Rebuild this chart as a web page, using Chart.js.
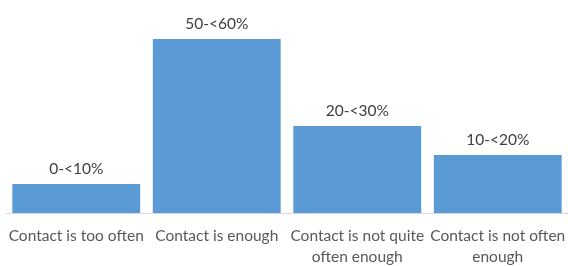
<!DOCTYPE html>
<html>
<head>
<meta charset="utf-8">
<script src="https://cdn.jsdelivr.net/npm/chart.js@4"></script>
<style>
  html, body { margin: 0; padding: 0; background: #fff; }
  #wrap { width: 568px; height: 266px; }
</style>
</head>
<body>
<div id="wrap"><canvas id="chart"></canvas></div>
<script>
const categories = [
  "Contact is too often",
  ["Contact is enough"],
  ["Contact is not quite", "often enough"],
  ["Contact is not often", "enough"]
];
const values = [10, 60, 30, 20];
const rangeLabels = ["0-<10%", "50-<60%", "20-<30%", "10-<20%"];

// draws the range text above each bar
const barLabels = {
  id: "barLabels",
  afterDatasetsDraw(chart) {
    const ctx = chart.ctx;
    const meta = chart.getDatasetMeta(0);
    ctx.save();
    ctx.font = "15.5px Lato, 'Open Sans', sans-serif";
    ctx.fillStyle = "#404040";
    ctx.textAlign = "center";
    ctx.textBaseline = "bottom";
    meta.data.forEach((bar, i) => {
      ctx.fillText(rangeLabels[i], bar.x, bar.y - 7);
    });
    ctx.restore();
  }
};

const ctx = document.getElementById("chart").getContext("2d");
new Chart(ctx, {
  type: "bar",
  data: {
    labels: categories,
    datasets: [{
      data: values,
      backgroundColor: "#5b9bd5",
      barPercentage: 0.91,
      categoryPercentage: 1
    }]
  },
  options: {
    responsive: true,
    maintainAspectRatio: false,
    animation: false,
    layout: { padding: { top: 39, left: 6, right: 0, bottom: 0 } },
    plugins: { legend: { display: false }, tooltip: { enabled: false } },
    scales: {
      x: {
        grid: { display: false, drawTicks: false },
        border: { color: "#d9d9d9", width: 1 },
        ticks: {
          color: "#595959",
          font: { family: "Lato, 'Open Sans', sans-serif", size: 15.5, lineHeight: 1.35 },
          padding: 13,
          maxRotation: 0,
          autoSkip: false
        },
        afterFit(scale) {
          scale.height = 53;
          scale.paddingLeft = 0;
          scale.paddingRight = 0;
        }
      },
      y: {
        display: false,
        min: 0,
        max: 60
      }
    }
  },
  plugins: [barLabels]
});
</script>
</body>
</html>
